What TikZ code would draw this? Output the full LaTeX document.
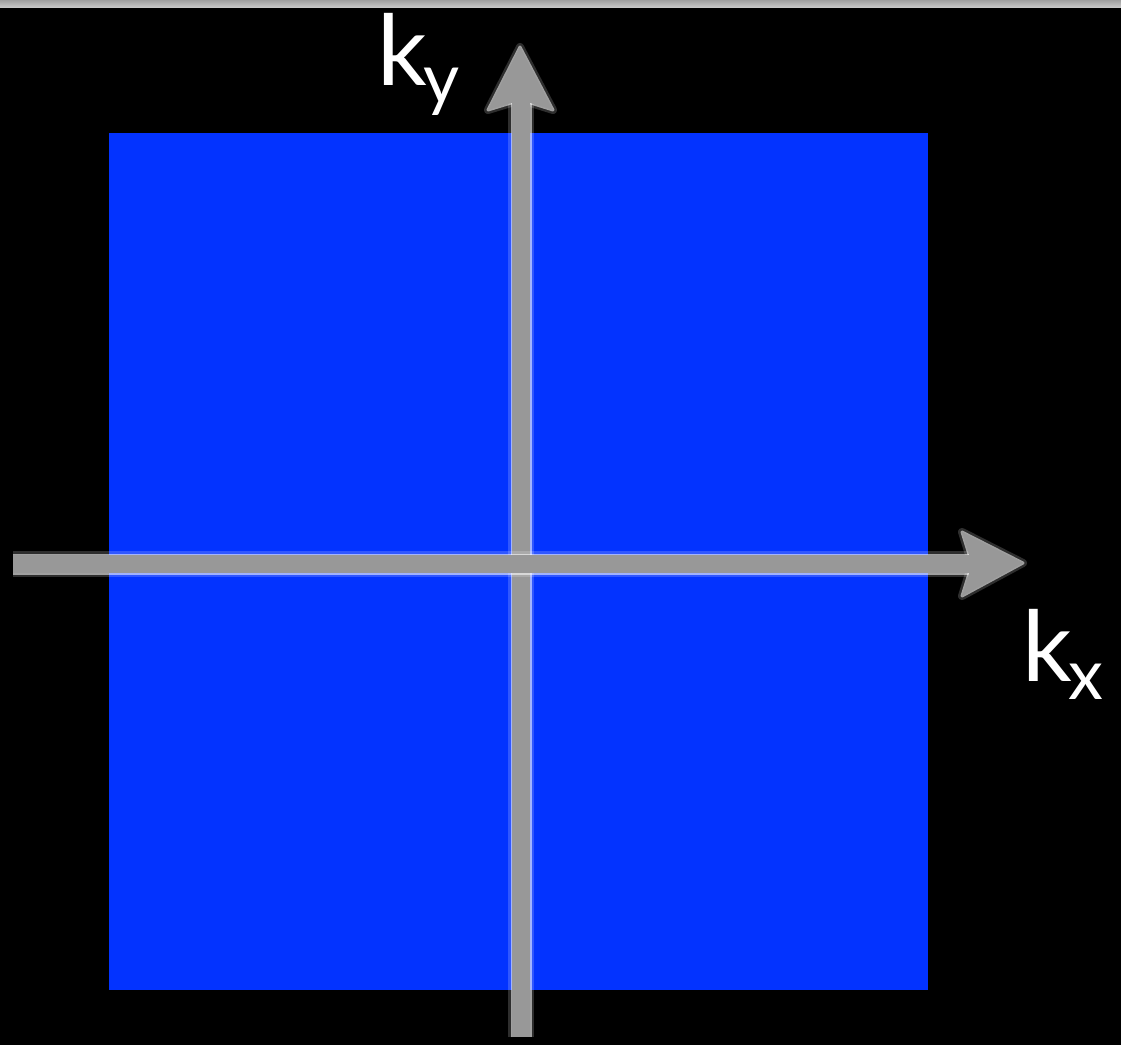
\documentclass[tikz,border=0pt]{standalone}
\usepackage{fontspec}
\newfontfamily\lbl{Lato}
\definecolor{kblue}{RGB}{3,51,255}
\definecolor{axgray}{RGB}{152,152,152}
\tikzset{
  glowout/.style={draw=white, draw opacity=0.18, line width=26pt, line join=round},
  glow/.style={draw=white, draw opacity=0.55, line width=21pt, line join=round},
  glowheadout/.style={draw=white, draw opacity=0.18, line width=8pt, line join=round},
  glowhead/.style={draw=white, draw opacity=0.55, line width=3pt, line join=round},
  shaft/.style={draw=axgray, line width=18pt},
  head/.style={fill=axgray},
  lab/.style={text=white, inner sep=0pt, anchor=base west, font=\lbl\fontsize{98}{98}\selectfont}
}
\newcommand{\subl}[1]{\raisebox{-18pt}{\fontsize{70}{70}\selectfont #1}}
\begin{document}
\begin{tikzpicture}[x=1pt,y=-1pt]
\useasboundingbox (0,0) rectangle (1121,1045);
\fill[black] (0,0) rectangle (1121,1045);
\shade[top color=gray!75, bottom color=gray!45] (0,0) rectangle (1121,7);
\fill[kblue] (109,133) rectangle (928,990);

% coordinates
\coordinate (ybot) at (521,1037);
\coordinate (ynotch) at (521,100);
\coordinate (ytip) at (520,47);
\coordinate (yw1) at (553,110);
\coordinate (yw2) at (488,110);
\coordinate (xleft) at (13,564);
\coordinate (xnotch) at (972,564);
\coordinate (xtip) at (1023,563);
\coordinate (xw1) at (962,532);
\coordinate (xw2) at (962,596);

% vertical axis
\path[glowout] (ybot) -- (ynotch);
\path[glowheadout] (ytip) -- (yw1) -- (ynotch) -- (yw2) -- cycle;
\path[glow] (ybot) -- (ynotch);
\path[glowhead] (ytip) -- (yw1) -- (ynotch) -- (yw2) -- cycle;
\path[shaft] (ybot) -- (ynotch);
\path[head] (ytip) -- (yw1) -- (ynotch) -- (yw2) -- cycle;

% horizontal axis
\path[glowout] (xleft) -- (xnotch);
\path[glowheadout] (xtip) -- (xw1) -- (xnotch) -- (xw2) -- cycle;
\path[glow] (xleft) -- (xnotch);
\path[glowhead] (xtip) -- (xw1) -- (xnotch) -- (xw2) -- cycle;
\path[shaft] (xleft) -- (xnotch);
\path[head] (xtip) -- (xw1) -- (xnotch) -- (xw2) -- cycle;

% labels
\node[lab] (ky) at (377,85) {k\kern-3pt\subl{y}};
\node[lab] (kx) at (1022,681) {k\kern-3pt\subl{x}};
\end{tikzpicture}
\end{document}
